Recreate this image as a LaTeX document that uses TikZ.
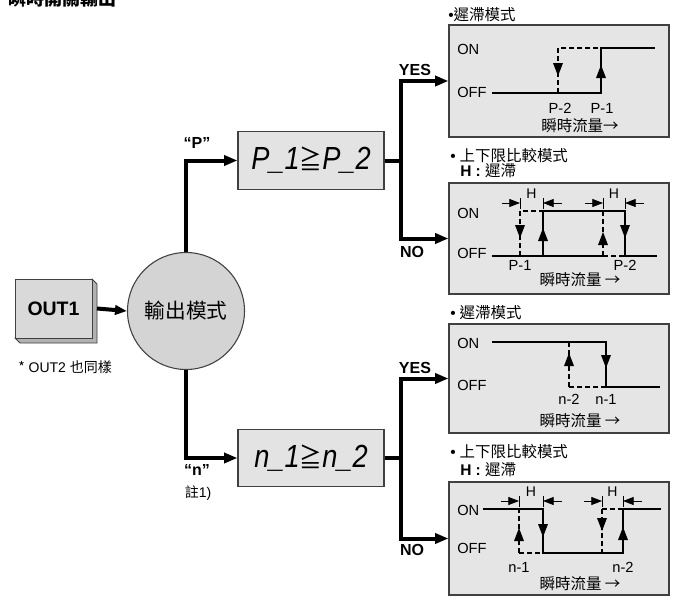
\documentclass[tikz,border=0pt]{standalone}
\usepackage{fontspec}
\usepackage{graphicx}
\setmainfont{Liberation Sans}
\newfontfamily\cjk{Noto Sans CJK TC}
\usetikzlibrary{arrows.meta}
\newcommand\fsz[1]{\fontsize{#1}{#1}\selectfont}
\newcommand\wup[2]{\fill (#1,#2) -- ++(-5,13) -- ++(10,0) -- cycle;}
\newcommand\wdown[2]{\fill (#1,#2) -- ++(-5,-13) -- ++(10,0) -- cycle;}
\newcommand\hdim[3]{%
  \draw[dimln] (#1,{#3-5}) -- (#1,{#3+6});
  \draw[dimln] (#2,{#3-5}) -- (#2,{#3+6});
  \draw[dimln,-{Triangle[length=8pt,width=6pt]}] ({#1-18},#3) -- (#1,#3);
  \draw[dimln,-{Triangle[length=8pt,width=6pt]}] ({#2+19},#3) -- (#2,#3);
  \node[lbl] at ({(#1+#2)/2},{#3-9}) {H};}
\begin{document}
\begin{tikzpicture}[x=0.75pt,y=-0.75pt,
  flow/.style={line width=3pt,-{Triangle[length=10pt,width=7.5pt]}},
  flowline/.style={line width=3pt},
  dispbox/.style={draw=black!75,line width=0.8pt,fill=black!11,minimum width=109.5pt,minimum height=43pt,inner sep=0pt,font=\itshape\fsz{24pt}},
  wavebox/.style={draw=black!75,line width=0.8pt,fill=black!10,minimum width=165pt,inner sep=0pt},
  wave/.style={line width=1.9pt},
  wdash/.style={line width=1.9pt,dash pattern=on 3.5pt off 2.5pt},
  dimln/.style={line width=0.6pt},
  lbl/.style={inner sep=0pt,font=\fsz{10.5pt}},
  wlbl/.style={inner sep=0pt,font=\fsz{11pt}},
  wtxt/.style={inner sep=0pt,font=\cjk\fsz{11.6pt}},
  yn/.style={inner sep=0pt,font=\bfseries\fsz{12pt}}]
\useasboundingbox (0,0) rectangle (675,600);

% title
\node[inner sep=0pt,anchor=west,font=\cjk\bfseries\fsz{13.5pt}] (title) at (8,-1) {瞬時開關輸出};

% OUT1 box
\fill[black!30,draw=black!75,line width=0.6pt] (92,279) -- (97,284) -- (97,343) -- (20,343) -- (15,338) -- cycle;
\node[draw=black!75,line width=0.6pt,fill=black!15,minimum width=57.75pt,minimum height=44.25pt,inner sep=0pt,font=\bfseries\fsz{14.6pt}] (out1) at (53.5,308.5) {OUT1};
\node[inner sep=0pt,anchor=west,font=\fsz{10.5pt}] (note2) at (18,367) {{\cjk *} OUT2 {\cjk 也同樣}};

% mode circle
\node[circle,draw=black!75,line width=0.8pt,fill=black!17,minimum size=87.75pt,inner sep=0pt,font=\cjk\fsz{15.5pt}] (mode) at (186,311) {輸出模式};
\draw[line width=3pt,-{Triangle[length=9pt,width=7pt]}] (out1.east -| 97,0) -- (mode.west|-0,311);

% display boxes
\node[dispbox] (pbox) at (311,160.5) {\scalebox{0.85}[1]{P\_1{\cjk\upshape\fsz{20pt}≧}P\_2}};
\node[dispbox] (nbox) at (311,458) {\scalebox{0.85}[1]{n\_1{\cjk\upshape\fsz{20pt}≧}n\_2}};

\draw[flow] (mode.north) |- (pbox.west);
\draw[flow] (mode.south) |- (nbox.west);
\node[inner sep=0pt,font=\bfseries\fsz{12pt}] (plbl) at (197,143) {“P”};
\node[inner sep=0pt,font=\bfseries\fsz{12pt}] (nlbl) at (197,470) {“n”};
\node[inner sep=0pt,font=\fsz{10.5pt}] (note1) at (198,493) {{\cjk 註}1)};

% wave boxes
\node[wavebox,minimum height=84pt] (w1) at (559,81) {};
\node[wavebox,minimum height=83.25pt] (w2) at (559,238.5) {};
\node[wavebox,minimum height=81.75pt] (w3) at (559,378.5) {};
\node[wavebox,minimum height=84.75pt] (w4) at (559,538.5) {};

% branch connectors
\coordinate (pj) at (401,160.5);
\coordinate (nj) at (401,458);
\draw[flowline] (pbox.east) -- (pj);
\draw[flowline] (nbox.east) -- (nj);
\draw[flow] (pj) |- (w1.west);
\draw[flow] (pj) |- (w2.west);
\draw[flow] (nj) |- (w3.west);
\draw[flow] (nj) |- (w4.west);
\node[yn] (yes1) at (415,70) {YES};
\node[yn] (no1) at (412,252) {NO};
\node[yn] (yes2) at (415,368) {YES};
\node[yn] (no2) at (412,550) {NO};

% ---- box 1
\node[wtxt,anchor=west] (t1) at (448,15) {{\rmfamily •}遲滯模式};
\node[wlbl,anchor=west] at (457,49) {ON};
\node[wlbl,anchor=west] at (457,92) {OFF};
\draw[wdash] (558,93) -- (558,48) -- (601,48);
\draw[wave] (492,93) -- (601,93) -- (601,48) -- (655,48);
\wup{601}{65}
\wdown{558}{76}
\node[wlbl] at (560,108) {P-2};
\node[wlbl] at (602,108) {P-1};
\node[wtxt] at (580,126) {瞬時流量→};

% ---- box 2
\node[wtxt,anchor=west] (t2) at (450,156) {{\rmfamily •}\hspace{3pt}上下限比較模式};
\node[inner sep=0pt,anchor=west,font=\fsz{11.6pt}] at (460,171) {\textbf{H :} {\cjk 遲滯}};
\node[wlbl,anchor=west] at (457,213) {ON};
\node[wlbl,anchor=west] at (457,253) {OFF};
\draw[wdash] (520,256) -- (520,211) -- (543,211);
\draw[wdash] (603,256) -- (603,211);
\draw[wdash] (603,256) -- (625,256);
\draw[wave] (492,256) -- (603,256);
\draw[wave] (543,256) -- (543,211) -- (625,211) -- (625,256) -- (657,256);
\wdown{520}{238}
\wup{543}{228}
\wup{603}{232}
\wdown{625}{238}
\hdim{520}{543}{203}
\hdim{603}{625}{203}
\node[wlbl] at (520,265) {P-1};
\node[wlbl] at (625,265) {P-2};
\node[wtxt] at (580,280) {瞬時流量 →};

% ---- box 3
\node[wtxt,anchor=west] (t3) at (450,313) {{\rmfamily •}\hspace{3pt}遲滯模式};
\node[wlbl,anchor=west] at (457,343) {ON};
\node[wlbl,anchor=west] at (457,385) {OFF};
\draw[wdash] (569,387) -- (569,342);
\draw[wdash] (569,387) -- (606,387);
\draw[wave] (492,342) -- (606,342) -- (606,387) -- (660,387);
\wup{569}{353}
\wdown{606}{368}
\node[wlbl] at (569,399) {n-2};
\node[wlbl] at (606,399) {n-1};
\node[wtxt] at (580,421) {瞬時流量 →};

% ---- box 4
\node[wtxt,anchor=west] (t4) at (450,452) {{\rmfamily •}\hspace{3pt}上下限比較模式};
\node[inner sep=0pt,anchor=west,font=\fsz{11.6pt}] at (460,470) {\textbf{H :} {\cjk 遲滯}};
\node[wlbl,anchor=west] at (457,510) {ON};
\node[wlbl,anchor=west] at (457,548) {OFF};
\draw[wdash] (519,553) -- (519,509);
\draw[wdash] (519,553) -- (543,553);
\draw[wdash] (602,509) -- (602,553);
\draw[wdash] (602,509) -- (623,509);
\draw[wave] (483,509) -- (543,509) -- (543,553) -- (623,553) -- (623,509) -- (661,509);
\wup{519}{528}
\wdown{543}{537}
\wdown{602}{531}
\wup{623}{527}
\hdim{519}{543}{501}
\hdim{602}{623}{501}
\node[wlbl] at (519,567) {n-1};
\node[wlbl] at (623,567) {n-2};
\node[wtxt] at (580,584) {瞬時流量 →};
\end{tikzpicture}
\end{document}
